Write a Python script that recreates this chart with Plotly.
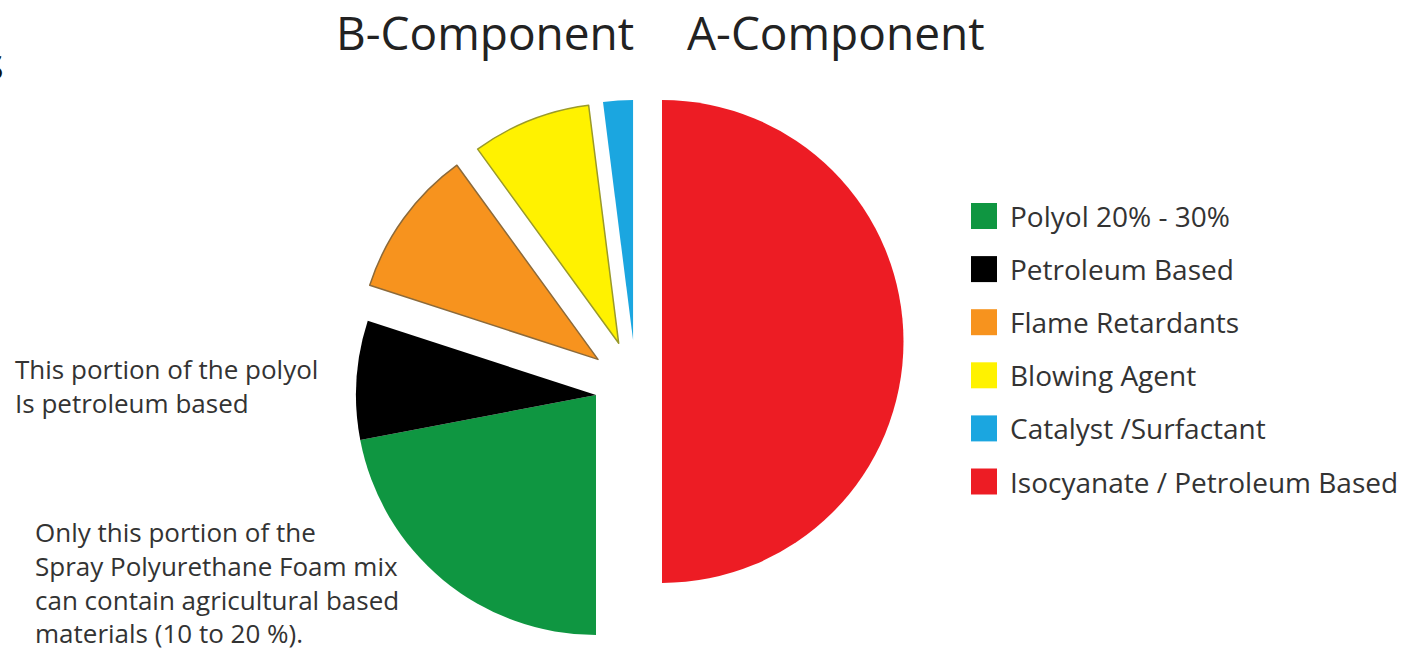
import math
import plotly.graph_objects as go

# ---------------- data ----------------
labels = ["Polyol 20% - 30%", "Petroleum Based", "Flame Retardants",
          "Blowing Agent", "Catalyst /Surfactant", "Isocyanate / Petroleum Based"]
values = [22, 8, 10, 8, 2, 50]
colors = ["#0f9641", "#000000", "#f7931e", "#fff200", "#1ba6e0", "#ed1c24"]
outline_colors = ["#0f9641", "#000000", "#8c6a3a", "#9a9a2a", "#1ba6e0", "#ed1c24"]
outline_widths = [0, 0, 1.5, 1.5, 0, 0]

titles = ["B-Component", "A-Component"]
note_petroleum = ["This portion of the polyol", "Is petroleum based"]
note_agri = ["Only this portion of the", "Spray Polyurethane Foam mix",
             "can contain agricultural based", "materials (10 to 20 %)."]

# ---------------- layout constants (pixels) ----------------
W, H = 1425, 649
START_ANGLE = 180          # first slice (polyol) starts at 6 o'clock, clockwise
R_A, CENTER_A = 241.5, (662, 341.5)
R_B, CENTER_POLYOL = 240, (596, 395)
EXPLODE_BASE, EXPLODE_PX = (636, 387), 47

TEXT = "#333333"
FONT = "Open Sans"


def px(x, y):
    return x / W, 1 - y / H


total = sum(values)
# mid angles of each slice (clockwise from 12 o'clock)
mids = []
acc = START_ANGLE
for v in values:
    mids.append(acc + v / total * 360 / 2)
    acc += v / total * 360


def exploded_center(i):
    a = math.radians(mids[i])
    return (EXPLODE_BASE[0] + EXPLODE_PX * math.sin(a),
            EXPLODE_BASE[1] - EXPLODE_PX * math.cos(a))


groups = [
    ([5], CENTER_A, R_A),
    ([0, 1], CENTER_POLYOL, R_B),
    ([2], exploded_center(2), R_B),
    ([3], exploded_center(3), R_B),
    ([4], exploded_center(4), R_B),
]

fig = go.Figure()
for members, (cx, cy), r in groups:
    fill = [colors[i] if i in members else "rgba(0,0,0,0)" for i in range(len(values))]
    lc = [outline_colors[i] if i in members else "rgba(0,0,0,0)" for i in range(len(values))]
    lw = [outline_widths[i] if i in members else 0 for i in range(len(values))]
    fig.add_trace(go.Pie(
        labels=labels, values=values, sort=False, direction="clockwise",
        rotation=START_ANGLE, textinfo="none", hoverinfo="label",
        marker=dict(colors=fill, line=dict(color=lc, width=lw)),
        domain=dict(x=[(cx - r) / W, (cx + r) / W],
                    y=[1 - (cy + r) / H, 1 - (cy - r) / H]),
        showlegend=False,
    ))

annotations = []
shapes = []

# titles
for t, xc in zip(titles, [485, 836]):
    x, y = px(xc, 32)
    annotations.append(dict(text=t, x=x, y=y, xref="paper", yref="paper",
                            xanchor="center", yanchor="middle", showarrow=False,
                            font=dict(family=FONT, size=46, color="#222222")))

# fragment of a word cut off at the left edge (as in the source image)
x, y = px(6, 62)
annotations.append(dict(text="s", x=x, y=y, xref="paper", yref="paper",
                        xanchor="right", yanchor="middle", showarrow=False,
                        font=dict(family=FONT, size=46, color="#111111")))

# manual legend
row0, step, sq = 216, 53.1, 26
for k, (lab, col) in enumerate(zip(labels, colors)):
    yc = row0 + k * step
    x0, y0 = px(971, yc - sq / 2)
    x1, y1 = px(971 + sq, yc + sq / 2)
    shapes.append(dict(type="rect", xref="paper", yref="paper",
                       x0=x0, x1=x1, y0=y1, y1=y0, fillcolor=col,
                       line=dict(width=0)))
    tx, ty = px(1008, yc)
    annotations.append(dict(text=lab, x=tx, y=ty, xref="paper", yref="paper",
                            xanchor="left", yanchor="middle", showarrow=False,
                            font=dict(family=FONT, size=28, color=TEXT)))

# side notes
for lines, xl, yc in [(note_petroleum, 13, 386), (note_agri, 33, 582)]:
    x, y = px(xl, yc)
    annotations.append(dict(text="<br>".join(lines), x=x, y=y, xref="paper",
                            yref="paper", xanchor="left", yanchor="middle",
                            align="left", showarrow=False,
                            font=dict(family=FONT, size=26, color=TEXT)))

fig.update_layout(
    width=W, height=H, margin=dict(l=0, r=0, t=0, b=0),
    paper_bgcolor="white", plot_bgcolor="white",
    annotations=annotations, shapes=shapes, showlegend=False,
)

fig.write_html("out.html")
